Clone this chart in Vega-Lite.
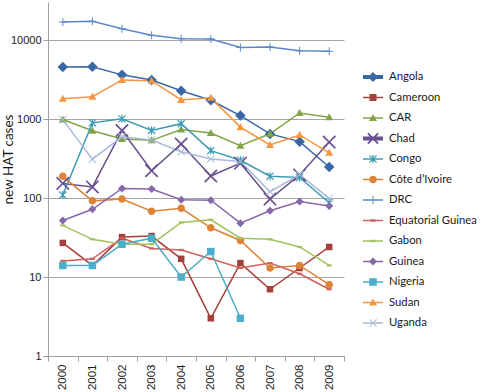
{
  "$schema": "https://vega.github.io/schema/vega-lite/v6.json",
  "autosize": {"type": "none"},
  "padding": {"left": 48, "top": 2, "right": 136, "bottom": 36},
  "width": 296,
  "height": 354,
  "background": "white",
  "config": {"view": {"stroke": null}},
  "data": {"values": [
    {"c":"Angola","y":2000,"v":4546},{"c":"Angola","y":2001,"v":4577},{"c":"Angola","y":2002,"v":3621},{"c":"Angola","y":2003,"v":3115},{"c":"Angola","y":2004,"v":2280},{"c":"Angola","y":2005,"v":1727},{"c":"Angola","y":2006,"v":1105},{"c":"Angola","y":2007,"v":648},{"c":"Angola","y":2008,"v":517},{"c":"Angola","y":2009,"v":247},
    {"c":"Cameroon","y":2000,"v":27},{"c":"Cameroon","y":2001,"v":14},{"c":"Cameroon","y":2002,"v":32},{"c":"Cameroon","y":2003,"v":33},{"c":"Cameroon","y":2004,"v":17},{"c":"Cameroon","y":2005,"v":3},{"c":"Cameroon","y":2006,"v":15},{"c":"Cameroon","y":2007,"v":7},{"c":"Cameroon","y":2008,"v":13},{"c":"Cameroon","y":2009,"v":24},
    {"c":"CAR","y":2000,"v":985},{"c":"CAR","y":2001,"v":711},{"c":"CAR","y":2002,"v":559},{"c":"CAR","y":2003,"v":537},{"c":"CAR","y":2004,"v":738},{"c":"CAR","y":2005,"v":666},{"c":"CAR","y":2006,"v":460},{"c":"CAR","y":2007,"v":650},{"c":"CAR","y":2008,"v":1194},{"c":"CAR","y":2009,"v":1054},
    {"c":"Chad","y":2000,"v":153},{"c":"Chad","y":2001,"v":138},{"c":"Chad","y":2002,"v":715},{"c":"Chad","y":2003,"v":222},{"c":"Chad","y":2004,"v":483},{"c":"Chad","y":2005,"v":190},{"c":"Chad","y":2006,"v":276},{"c":"Chad","y":2007,"v":97},{"c":"Chad","y":2008,"v":196},{"c":"Chad","y":2009,"v":510},
    {"c":"Congo","y":2000,"v":109},{"c":"Congo","y":2001,"v":894},{"c":"Congo","y":2002,"v":1005},{"c":"Congo","y":2003,"v":717},{"c":"Congo","y":2004,"v":873},{"c":"Congo","y":2005,"v":398},{"c":"Congo","y":2006,"v":300},{"c":"Congo","y":2007,"v":189},{"c":"Congo","y":2008,"v":182},{"c":"Congo","y":2009,"v":87},
    {"c":"Côte d’Ivoire","y":2000,"v":188},{"c":"Côte d’Ivoire","y":2001,"v":92},{"c":"Côte d’Ivoire","y":2002,"v":97},{"c":"Côte d’Ivoire","y":2003,"v":68},{"c":"Côte d’Ivoire","y":2004,"v":74},{"c":"Côte d’Ivoire","y":2005,"v":42},{"c":"Côte d’Ivoire","y":2006,"v":29},{"c":"Côte d’Ivoire","y":2007,"v":13},{"c":"Côte d’Ivoire","y":2008,"v":14},{"c":"Côte d’Ivoire","y":2009,"v":8},
    {"c":"DRC","y":2000,"v":16951},{"c":"DRC","y":2001,"v":17322},{"c":"DRC","y":2002,"v":13853},{"c":"DRC","y":2003,"v":11481},{"c":"DRC","y":2004,"v":10369},{"c":"DRC","y":2005,"v":10269},{"c":"DRC","y":2006,"v":8023},{"c":"DRC","y":2007,"v":8162},{"c":"DRC","y":2008,"v":7326},{"c":"DRC","y":2009,"v":7183},
    {"c":"Equatorial Guinea","y":2000,"v":16},{"c":"Equatorial Guinea","y":2001,"v":17},{"c":"Equatorial Guinea","y":2002,"v":31},{"c":"Equatorial Guinea","y":2003,"v":23},{"c":"Equatorial Guinea","y":2004,"v":22},{"c":"Equatorial Guinea","y":2005,"v":17},{"c":"Equatorial Guinea","y":2006,"v":13},{"c":"Equatorial Guinea","y":2007,"v":15},{"c":"Equatorial Guinea","y":2008,"v":11},{"c":"Equatorial Guinea","y":2009,"v":7},
    {"c":"Gabon","y":2000,"v":45},{"c":"Gabon","y":2001,"v":30},{"c":"Gabon","y":2002,"v":26},{"c":"Gabon","y":2003,"v":26},{"c":"Gabon","y":2004,"v":49},{"c":"Gabon","y":2005,"v":53},{"c":"Gabon","y":2006,"v":31},{"c":"Gabon","y":2007,"v":30},{"c":"Gabon","y":2008,"v":24},{"c":"Gabon","y":2009,"v":14},
    {"c":"Guinea","y":2000,"v":52},{"c":"Guinea","y":2001,"v":72},{"c":"Guinea","y":2002,"v":132},{"c":"Guinea","y":2003,"v":130},{"c":"Guinea","y":2004,"v":95},{"c":"Guinea","y":2005,"v":94},{"c":"Guinea","y":2006,"v":48},{"c":"Guinea","y":2007,"v":69},{"c":"Guinea","y":2008,"v":90},{"c":"Guinea","y":2009,"v":79},
    {"c":"Nigeria","y":2000,"v":14},{"c":"Nigeria","y":2001,"v":14},{"c":"Nigeria","y":2002,"v":26},{"c":"Nigeria","y":2003,"v":31},{"c":"Nigeria","y":2004,"v":10},{"c":"Nigeria","y":2005,"v":21},{"c":"Nigeria","y":2006,"v":3},
    {"c":"Sudan","y":2000,"v":1801},{"c":"Sudan","y":2001,"v":1919},{"c":"Sudan","y":2002,"v":3121},{"c":"Sudan","y":2003,"v":3061},{"c":"Sudan","y":2004,"v":1742},{"c":"Sudan","y":2005,"v":1853},{"c":"Sudan","y":2006,"v":789},{"c":"Sudan","y":2007,"v":469},{"c":"Sudan","y":2008,"v":628},{"c":"Sudan","y":2009,"v":373},
    {"c":"Uganda","y":2000,"v":981},{"c":"Uganda","y":2001,"v":310},{"c":"Uganda","y":2002,"v":594},{"c":"Uganda","y":2003,"v":543},{"c":"Uganda","y":2004,"v":385},{"c":"Uganda","y":2005,"v":312},{"c":"Uganda","y":2006,"v":290},{"c":"Uganda","y":2007,"v":120},{"c":"Uganda","y":2008,"v":198},{"c":"Uganda","y":2009,"v":99}
  ]},
  "encoding": {
    "x": {"field": "y", "type": "quantitative",
      "scale": {"domain": [1999.5, 2009.5], "nice": false, "zero": false},
      "axis": {"title": null, "orient": "bottom", "values": [1999.5,2000.5,2001.5,2002.5,2003.5,2004.5,2005.5,2006.5,2007.5,2008.5,2009.5],
        "labelExpr": "datum.value > 2009 ? '' : format(datum.value + 0.5, 'd')",
        "labelOffset": 14.8, "labelAngle": -90, "labelAlign": "right", "labelBaseline": "middle",
        "labelFont": "Liberation Sans", "labelFontSize": 11.5, "labelColor": "#1a1a1a", "labelPadding": 3,
        "labelOverlap": false, "labelBound": false, "labelFlush": false,
        "tickSize": 5, "tickColor": "#a0a0a0", "domainColor": "#a0a0a0", "domainWidth": 1, "grid": false}},
    "y": {"field": "v", "type": "quantitative",
      "scale": {"type": "log", "domain": [1, 30280], "nice": false},
      "axis": {"title": "new HAT cases", "values": [1, 10, 100, 1000, 10000], "format": "d",
        "labelFont": "Liberation Sans", "labelFontSize": 11, "labelColor": "#1a1a1a", "labelPadding": 2,
        "tickSize": 5, "tickColor": "#a0a0a0", "domainColor": "#a0a0a0", "domainWidth": 1,
        "grid": true, "gridColor": "#a6a6a6", "gridWidth": 1,
        "titleFont": "Lato", "titleFontSize": 13.5, "titleFontWeight": "normal", "titleColor": "#1a1a1a",
        "titleX": -40, "titleY": 157, "titleAngle": -90, "titleAlign": "center", "titleBaseline": "middle"}}
  },
  "layer": [
    {
      "mark": {"type": "line", "strokeWidth": 1.5},
      "encoding": {
        "color": {"field": "c", "type": "nominal", "legend": null,
          "scale": {"domain": ["Angola","Cameroon","CAR","Chad","Congo","Côte d’Ivoire","DRC","Equatorial Guinea","Gabon","Guinea","Nigeria","Sudan","Uganda"],
            "range": ["#3a67a6","#a6403c","#82a447","#68508f","#3d9bb4","#dd8236","#5a88c6","#d2605c","#a2c25e","#8668aa","#4aafcb","#f7963f","#a9badb"]}},
        "strokeWidth": {"condition": {"test": "datum.c === 'Angola' || datum.c === 'Chad'", "value": 4}, "value": 1.5}
      }
    },
    {
      "mark": {"type": "point", "filled": true, "opacity": 1, "size": 100, "strokeWidth": 0},
      "encoding": {
        "color": {"field": "c", "type": "nominal", "legend": null,
          "scale": {"domain": ["Angola","Cameroon","CAR","Chad","Congo","Côte d’Ivoire","DRC","Equatorial Guinea","Gabon","Guinea","Nigeria","Sudan","Uganda"],
            "range": ["#3a67a6","#a6403c","#82a447","#68508f","#3d9bb4","#dd8236","#5a88c6","#d2605c","#a2c25e","#8668aa","#4aafcb","#f7963f","#a9badb"]}},
        "shape": {"field": "c", "type": "nominal", "legend": null,
          "scale": {"domain": ["Angola","Cameroon","CAR","Chad","Congo","Côte d’Ivoire","DRC","Equatorial Guinea","Gabon","Guinea","Nigeria","Sudan","Uganda"],
            "range": [
              "M0,-1.05L1.05,0L0,1.05L-1.05,0Z",
              "M-0.65,-0.65L0.65,-0.65L0.65,0.65L-0.65,0.65Z",
              "M0,-0.8L0.8,0.6L-0.8,0.6Z",
              "M1.117,-1.358L1.358,-1.117L0.24,0L1.358,1.117L1.117,1.358L0,0.24L-1.117,1.358L-1.358,1.117L-0.24,0L-1.358,-1.117L-1.117,-1.358L0,-0.24Z",
              "M0.622,-0.792L0.792,-0.622L0.17,0L0.792,0.622L0.622,0.792L0,0.17L-0.622,0.792L-0.792,0.622L-0.17,0L-0.792,-0.622L-0.622,-0.792L0,-0.17ZM-0.12,-0.8L0.12,-0.8L0.12,0.8L-0.12,0.8Z",
              "M-0.75,0A0.75,0.75 0 1,1 0.75,0A0.75,0.75 0 1,1 -0.75,0Z",
              "M-0.1,-0.8L0.1,-0.8L0.1,-0.1L0.8,-0.1L0.8,0.1L0.1,0.1L0.1,0.8L-0.1,0.8L-0.1,0.1L-0.8,0.1L-0.8,-0.1L-0.1,-0.1Z",
              "M-0.5,-0.22L0.5,-0.22L0.5,0.22L-0.5,0.22Z",
              "M-0.5,-0.22L0.5,-0.22L0.5,0.22L-0.5,0.22Z",
              "M0,-0.8L0.8,0L0,0.8L-0.8,0Z",
              "M-0.75,-0.75L0.75,-0.75L0.75,0.75L-0.75,0.75Z",
              "M0,-0.8L0.8,0.6L-0.8,0.6Z",
              "M0.672,-0.813L0.813,-0.672L0.141,0L0.813,0.672L0.672,0.813L0,0.141L-0.672,0.813L-0.813,0.672L-0.141,0L-0.813,-0.672L-0.672,-0.813L0,-0.141Z"
            ]}}
      }
    },
    {
      "transform": [{"filter": "false"}],
      "mark": {"type": "point", "filled": true, "opacity": 1, "size": 400, "strokeWidth": 0},
      "encoding": {
        "color": {"field": "c", "type": "nominal",
          "scale": {"domain": ["Angola","Cameroon","CAR","Chad","Congo","Côte d’Ivoire","DRC","Equatorial Guinea","Gabon","Guinea","Nigeria","Sudan","Uganda"],
            "range": ["#3a67a6","#a6403c","#82a447","#68508f","#3d9bb4","#dd8236","#5a88c6","#d2605c","#a2c25e","#8668aa","#4aafcb","#f7963f","#a9badb"]},
          "legend": {"title": null, "orient": "none", "legendX": 315, "legendY": 65, "padding": 0,
            "symbolSize": 400, "symbolStrokeWidth": 0, "symbolOpacity": 1, "rowPadding": 4.5,
            "labelFont": "Lato", "labelFontSize": 11.3, "labelColor": "#1a1a1a", "labelOffset": 6, "labelLimit": 200}},
        "shape": {"field": "c", "type": "nominal",
          "scale": {"domain": ["Angola","Cameroon","CAR","Chad","Congo","Côte d’Ivoire","DRC","Equatorial Guinea","Gabon","Guinea","Nigeria","Sudan","Uganda"],
            "range": [
              "M-1,-0.2L1,-0.2L1,0.2L-1,0.2ZM0,-0.5L0.5,0L0,0.5L-0.5,0Z",
              "M-1,-0.08L1,-0.08L1,0.08L-1,0.08ZM-0.35,-0.35L0.35,-0.35L0.35,0.35L-0.35,0.35Z",
              "M-1,-0.08L1,-0.08L1,0.08L-1,0.08ZM0,-0.4L0.4,0.3L-0.4,0.3Z",
              "M-1,-0.2L1,-0.2L1,0.2L-1,0.2ZM0.445,-0.573L0.573,-0.445L0.127,0L0.573,0.445L0.445,0.573L0,0.127L-0.445,0.573L-0.573,0.445L-0.127,0L-0.573,-0.445L-0.445,-0.573L0,-0.127Z",
              "M-1,-0.08L1,-0.08L1,0.08L-1,0.08ZM0.311,-0.396L0.396,-0.311L0.085,0L0.396,0.311L0.311,0.396L0,0.085L-0.311,0.396L-0.396,0.311L-0.085,0L-0.396,-0.311L-0.311,-0.396L0,-0.085ZM-0.06,-0.4L0.06,-0.4L0.06,0.4L-0.06,0.4Z",
              "M-1,-0.08L1,-0.08L1,0.08L-1,0.08ZM-0.38,0A0.38,0.38 0 1,1 0.38,0A0.38,0.38 0 1,1 -0.38,0Z",
              "M-1,-0.08L1,-0.08L1,0.08L-1,0.08ZM-0.05,-0.4L0.05,-0.4L0.05,0.4L-0.05,0.4Z",
              "M-1,-0.08L1,-0.08L1,0.08L-1,0.08ZM-0.25,-0.12L0.25,-0.12L0.25,0.12L-0.25,0.12Z",
              "M-1,-0.08L1,-0.08L1,0.08L-1,0.08ZM-0.25,-0.12L0.25,-0.12L0.25,0.12L-0.25,0.12Z",
              "M-1,-0.08L1,-0.08L1,0.08L-1,0.08ZM0,-0.4L0.4,0L0,0.4L-0.4,0Z",
              "M-1,-0.08L1,-0.08L1,0.08L-1,0.08ZM-0.38,-0.38L0.38,-0.38L0.38,0.38L-0.38,0.38Z",
              "M-1,-0.08L1,-0.08L1,0.08L-1,0.08ZM0,-0.4L0.4,0.3L-0.4,0.3Z",
              "M-1,-0.08L1,-0.08L1,0.08L-1,0.08ZM0.318,-0.389L0.389,-0.318L0.071,0L0.389,0.318L0.318,0.389L0,0.071L-0.318,0.389L-0.389,0.318L-0.071,0L-0.389,-0.318L-0.318,-0.389L0,-0.071Z"
            ]},
          "legend": {"title": null, "orient": "none", "legendX": 315, "legendY": 65, "padding": 0,
            "symbolSize": 400, "symbolStrokeWidth": 0, "symbolOpacity": 1, "rowPadding": 4.5,
            "labelFont": "Lato", "labelFontSize": 11.3, "labelColor": "#1a1a1a", "labelOffset": 6, "labelLimit": 200}}
      }
    }
  ],
  "resolve": {"scale": {"color": "independent", "shape": "independent"}}
}
